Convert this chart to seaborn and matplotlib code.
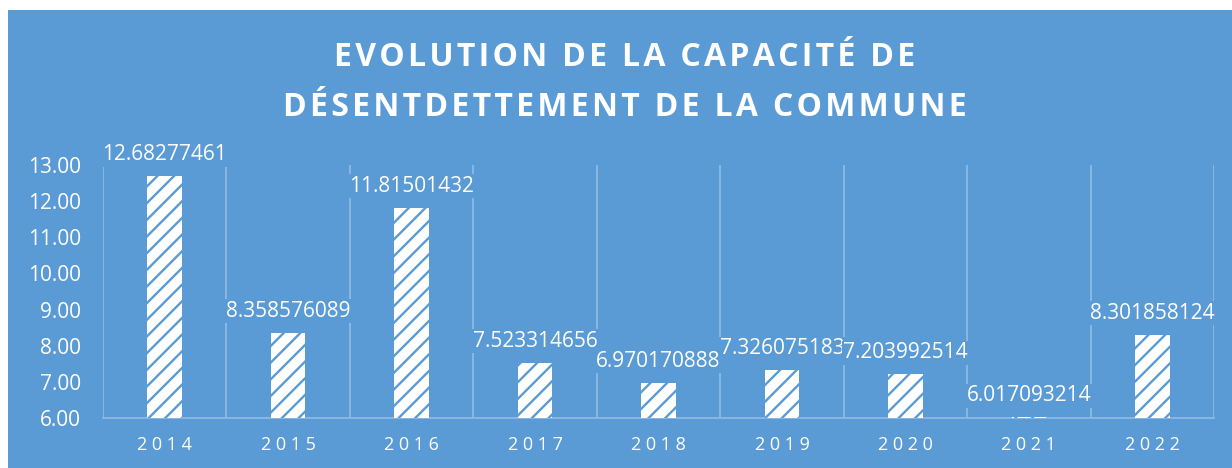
import numpy as np
import pandas as pd
import matplotlib
matplotlib.use('Agg')
import matplotlib.pyplot as plt
import seaborn as sns

# Données
annees = [2014, 2015, 2016, 2017, 2018, 2019, 2020, 2021, 2022]
capacite = [12.68277461, 8.358576089, 11.81501432, 7.523314656, 6.970170888,
            7.326075183, 7.203992514, 6.017093214, 8.301858124]
etiquettes = ['12.68277461', '8.358576089', '11.81501432', '7.523314656', '6.970170888',
              '7.326075183', '7.203992514', '6.017093214', '8.301858124']
titre = ['EVOLUTION DE LA CAPACITÉ DE', 'DÉSENTDETTEMENT DE LA COMMUNE']

bleu = '#5B9BD5'
grille = '#8CB9E3'

sns.set_theme(style='white')
plt.rcParams['font.family'] = ['Open Sans', 'DejaVu Sans']
plt.rcParams['hatch.linewidth'] = 1.7

df = pd.DataFrame({'annee': [' '.join(str(a)) for a in annees], 'valeur': capacite})

fig = plt.figure(figsize=(12.32, 4.68), dpi=100)
fig.patch.set_facecolor('white')
# panneau bleu
fig.patches.append(plt.Rectangle((8 / 1232, 0), 1, 1 - 10 / 468, transform=fig.transFigure,
                                 facecolor=bleu, edgecolor='none', zorder=-5))
ax = fig.add_axes([103 / 1232, 1 - 418 / 468, (1214 - 103) / 1232, (418 - 165) / 468])
ax.set_facecolor(bleu)
ax.set_zorder(2)

sns.barplot(data=df, x='annee', y='valeur', ax=ax, color='white', width=0.28,
            edgecolor=bleu, linewidth=0, hatch='//', zorder=3)

ax.set_ylim(6, 13)
ax.set_xlim(-0.5, len(annees) - 0.5)
ax.set_yticks(range(6, 14))
ax.set_yticklabels([f'{v:.2f}' for v in range(6, 14)], color='white', fontsize=15)
ax.tick_params(axis='y', length=0, pad=16)
ax.tick_params(axis='x', length=0, pad=13, labelsize=13, labelcolor='white')
ax.set_xticks(np.arange(-0.5, len(annees)), minor=True)
ax.tick_params(axis='x', which='minor', length=0)
ax.grid(which='minor', axis='x', color=grille, linewidth=1.3, zorder=1)
ax.grid(which='major', visible=False)
ax.set_xlabel('')
ax.set_ylabel('')
for s in ['left', 'right', 'top']:
    ax.spines[s].set_visible(False)
ax.spines['bottom'].set_color(grille)
ax.spines['bottom'].set_linewidth(1.3)

for i, (v, t) in enumerate(zip(capacite, etiquettes)):
    ax.annotate(t, (i, v), xytext=(0, 8), textcoords='offset points', ha='center', va='bottom',
                color='white', fontsize=15, zorder=4, annotation_clip=False,
                bbox=dict(facecolor=bleu, edgecolor='none', pad=1))

hs = '\u200a'
for k, ligne in enumerate(titre):
    fig.text(625 / 1232, 1 - (58 + 49 * k) / 468, hs.join(ligne), ha='center', va='center',
             color='white', fontsize=23, fontweight='bold', zorder=5)

fig.savefig('out.png', dpi=100, facecolor=fig.get_facecolor())
